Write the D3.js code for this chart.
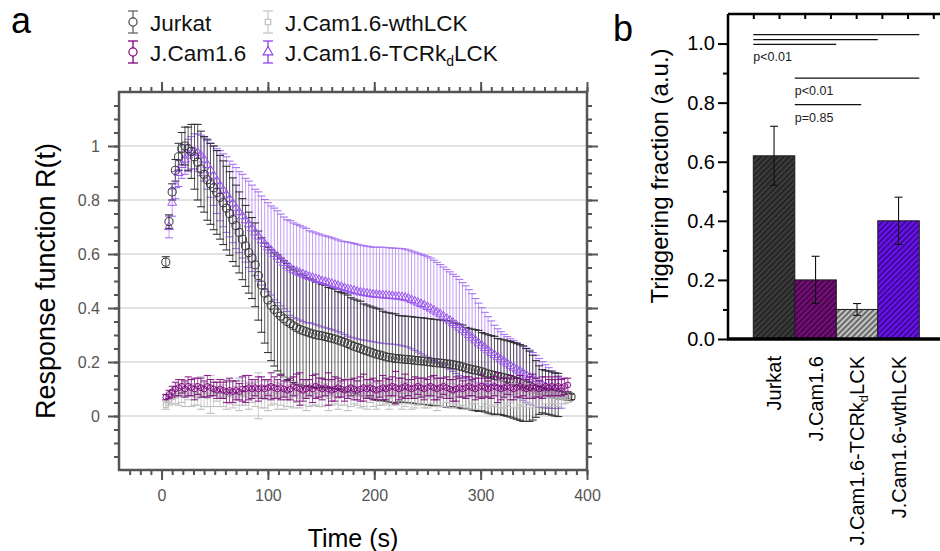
<!DOCTYPE html>
<html><head><meta charset="utf-8">
<script src="https://cdn.jsdelivr.net/npm/d3@7"></script>
<style>body{margin:0;background:#fff}svg{display:block;font-family:"Liberation Sans",Arial,sans-serif}</style>
</head><body><svg id="c" width="940" height="551"></svg>
<script>
// ---------- DATA: panel a ----------
const timeS = [4,7,10,13,16,19,22,25,28,31, 34,37,40,43,46,49,52,55,58,61, 64,67,70,73,76,79,82,85,88,91,
 94,97,100,103,106,109,112,115,118,121, 124,127,130,133,136,139,142,145,148,151, 154,157,160,163,166,169,172,175,178,181,
 184,187,190,193,196,199,202,205,208,211, 214,217,220,223,226,229,232,235,238,241, 244,247,250,253,256,259,262,265,268,271,
 274,277,280,283,286,289,292,295,298,301, 304,307,310,313,316,319,322,325,328,331, 334,337,340,343,346,349,352,355,358,361,
 364,367,370,373,376,379,382,385];

const jurkat = [0.57,0.72,0.83,0.91,0.96,0.99,1.00,0.99,0.98,0.96,
 0.94,0.915,0.895,0.875,0.86,0.845,0.828,0.81,0.79,0.77,
 0.75,0.727,0.705,0.68,0.655,0.63,0.605,0.585,0.56,0.52,
 0.485,0.455,0.43,0.41,0.395,0.382,0.37,0.36,0.35,0.342,
 0.334,0.327,0.321,0.316,0.312,0.308,0.304,0.301,0.299,0.297,
 0.294,0.291,0.288,0.285,0.281,0.277,0.273,0.268,0.263,0.258,
 0.254,0.25,0.245,0.241,0.237,0.233,0.229,0.226,0.223,0.219,
 0.217,0.215,0.213,0.212,0.211,0.21,0.209,0.208,0.206,0.205,
 0.204,0.203,0.201,0.2,0.198,0.197,0.196,0.195,0.193,0.192,
 0.19,0.188,0.185,0.182,0.178,0.175,0.172,0.17,0.167,0.164,
 0.16,0.156,0.153,0.15,0.147,0.145,0.142,0.139,0.136,0.132,
 0.128,0.124,0.12,0.115,0.11,0.105,0.1,0.096,0.092,0.088,
 0.086,0.083,0.08,0.078,0.076,0.074,0.073,0.071];
const jurkatErr = [0.02,0.025,0.03,0.04,0.05,0.06,0.07,0.08,0.1,0.12,
 0.14,0.14,0.14,0.15,0.15,0.155,0.155,0.155,0.155,0.155,
 0.155,0.155,0.15,0.15,0.15,0.15,0.15,0.15,0.155,0.165,
 0.175,0.185,0.195,0.205,0.21,0.215,0.215,0.215,0.215,0.21,
 0.21,0.21,0.205,0.205,0.2,0.2,0.2,0.195,0.195,0.19,
 0.19,0.185,0.185,0.185,0.18,0.18,0.18,0.18,0.175,0.175,
 0.175,0.175,0.17,0.17,0.17,0.17,0.17,0.17,0.165,0.165,
 0.165,0.165,0.165,0.16,0.16,0.16,0.16,0.16,0.16,0.16,
 0.16,0.16,0.16,0.16,0.16,0.16,0.16,0.16,0.16,0.16,
 0.155,0.155,0.155,0.155,0.15,0.15,0.15,0.15,0.15,0.145,
 0.145,0.145,0.145,0.145,0.14,0.14,0.14,0.14,0.14,0.14,
 0.14,0.14,0.14,0.135,0.13,0.12,0.105,0.09,0.08,0.08,
 0.08,0.08,0.08,0.08,0.015,0.012,0.01,0.01];

const tcrkd = [null,0.70,0.79,0.855,0.90,0.93,0.95,0.965,0.975,0.98,
 0.975,0.965,0.95,0.93,0.91,0.89,0.87,0.853,0.836,0.82,
 0.804,0.787,0.77,0.755,0.74,0.725,0.71,0.695,0.68,0.665,
 0.65,0.637,0.625,0.613,0.6,0.59,0.578,0.567,0.557,0.548,
 0.54,0.535,0.53,0.525,0.52,0.516,0.512,0.508,0.504,0.5,
 0.497,0.494,0.49,0.486,0.482,0.478,0.474,0.47,0.467,0.464,
 0.461,0.458,0.456,0.454,0.452,0.45,0.449,0.448,0.447,0.446,
 0.445,0.444,0.443,0.442,0.44,0.438,0.435,0.43,0.425,0.42,
 0.415,0.41,0.404,0.398,0.391,0.384,0.377,0.369,0.361,0.353,
 0.345,0.337,0.328,0.319,0.31,0.3,0.29,0.28,0.27,0.261,
 0.252,0.243,0.234,0.226,0.218,0.21,0.202,0.194,0.186,0.179,
 0.172,0.165,0.158,0.151,0.144,0.137,0.13,0.123,0.116,0.11,
 0.104,0.098,0.093,0.088,0.084,null,null,null];
const tcrkdErr = [null,0.04,0.05,0.05,0.05,0.05,0.055,0.06,0.06,0.065,
 0.07,0.075,0.08,0.09,0.1,0.11,0.12,0.13,0.135,0.14,
 0.14,0.145,0.15,0.15,0.155,0.155,0.16,0.16,0.16,0.165,
 0.165,0.165,0.165,0.165,0.17,0.17,0.17,0.17,0.17,0.175,
 0.175,0.175,0.175,0.175,0.175,0.17,0.17,0.17,0.17,0.17,
 0.17,0.17,0.17,0.17,0.17,0.17,0.172,0.174,0.175,0.175,
 0.175,0.175,0.175,0.175,0.175,0.175,0.176,0.177,0.178,0.178,
 0.178,0.178,0.178,0.179,0.18,0.18,0.18,0.181,0.182,0.183,
 0.184,0.185,0.186,0.187,0.186,0.185,0.184,0.183,0.182,0.181,
 0.18,0.18,0.178,0.175,0.172,0.168,0.163,0.155,0.148,0.14,
 0.132,0.125,0.118,0.11,0.105,0.102,0.1,0.1,0.1,0.1,
 0.1,0.1,0.1,0.1,0.1,0.098,0.095,0.09,0.085,0.08,
 0.075,0.07,0.065,0.06,0.055,null,null,null];

const jcam = [0.07,0.08,0.09,0.1,0.105,0.11,0.1,0.11,0.105,0.1,
 0.11,0.105,0.1,0.11,0.105,0.1,0.095,0.1,0.095,0.09,
 0.095,0.09,0.095,0.09,0.1,0.1,0.105,0.1,0.105,0.1,
 0.105,0.1,0.105,0.11,0.105,0.1,0.105,0.1,0.095,0.1,
 0.11,0.105,0.1,0.095,0.1,0.105,0.1,0.11,0.105,0.1,
 0.105,0.1,0.095,0.1,0.105,0.1,0.095,0.1,0.105,0.1,
 0.095,0.1,0.105,0.1,0.105,0.1,0.095,0.1,0.105,0.1,
 0.105,0.11,0.105,0.1,0.105,0.11,0.105,0.1,0.105,0.11,
 0.105,0.1,0.105,0.11,0.105,0.1,0.105,0.11,0.105,0.1,
 0.095,0.1,0.105,0.1,0.105,0.11,0.105,0.1,0.105,0.11,
 0.105,0.1,0.105,0.11,0.105,0.1,0.105,0.11,0.105,0.1,
 0.105,0.11,0.105,0.1,0.105,0.11,0.105,0.1,0.105,0.11,
 0.105,0.11,0.105,0.11,0.105,0.11,0.115,null];
const jcamErr = [0.01,0.015,0.02,0.025,0.03,0.025,0.03,0.035,0.03,0.04,
 0.03,0.035,0.03,0.04,0.03,0.025,0.03,0.035,0.03,0.04,
 0.045,0.04,0.035,0.03,0.045,0.05,0.045,0.035,0.03,0.045,
 0.04,0.035,0.03,0.05,0.04,0.035,0.045,0.03,0.035,0.04,
 0.035,0.05,0.06,0.04,0.035,0.03,0.05,0.045,0.035,0.04,
 0.03,0.06,0.04,0.045,0.035,0.03,0.04,0.035,0.03,0.04,
 0.035,0.045,0.05,0.035,0.03,0.04,0.035,0.03,0.045,0.04,
 0.03,0.035,0.06,0.04,0.035,0.045,0.03,0.035,0.04,0.03,
 0.035,0.04,0.03,0.035,0.045,0.04,0.035,0.03,0.04,0.035,
 0.04,0.045,0.035,0.03,0.04,0.035,0.03,0.04,0.035,0.045,
 0.035,0.03,0.04,0.035,0.055,0.04,0.035,0.03,0.045,0.04,
 0.035,0.04,0.03,0.035,0.04,0.045,0.035,0.03,0.04,0.035,
 0.03,0.035,0.03,0.035,0.03,0.03,0.025,null];

const wth = [0.04,0.06,0.07,0.075,0.08,0.085,0.08,0.09,0.085,0.08,
 0.075,0.085,0.08,0.075,0.08,0.085,0.09,0.08,0.075,0.08,
 0.085,0.08,0.075,0.08,0.085,0.08,0.075,0.085,0.08,0.075,
 0.08,0.07,0.075,0.085,0.08,0.075,0.08,0.085,0.08,0.075,
 0.08,0.085,0.075,0.08,0.075,0.085,0.08,0.075,0.08,0.085,
 0.08,0.075,0.085,0.08,0.075,0.08,0.085,0.08,0.075,0.08,
 0.085,0.08,0.075,0.08,0.085,0.08,0.075,0.08,0.085,0.08,
 0.075,0.08,0.085,0.08,0.075,0.08,0.085,0.08,0.075,0.08,
 0.085,0.08,0.075,0.08,0.085,0.08,0.075,0.08,0.085,0.08,
 0.075,0.08,0.085,0.08,0.075,0.08,0.085,0.08,0.075,0.08,
 0.085,0.08,0.075,0.08,0.085,0.08,0.075,0.08,0.085,0.08,
 0.075,0.08,0.085,0.08,0.075,0.08,0.085,0.08,0.075,0.08,
 0.075,0.08,0.075,0.07,0.075,0.07,0.07,null];
const wthErr = [0.015,0.02,0.025,0.03,0.04,0.035,0.045,0.03,0.05,0.04,
 0.035,0.06,0.045,0.04,0.07,0.05,0.035,0.045,0.04,0.055,
 0.04,0.05,0.035,0.06,0.045,0.04,0.05,0.035,0.045,0.085,
 0.05,0.04,0.055,0.045,0.035,0.05,0.04,0.06,0.045,0.04,
 0.05,0.035,0.045,0.04,0.055,0.05,0.04,0.035,0.045,0.05,
 0.04,0.055,0.045,0.035,0.05,0.04,0.045,0.06,0.04,0.035,
 0.045,0.05,0.04,0.055,0.035,0.045,0.05,0.04,0.045,0.035,
 0.05,0.04,0.045,0.035,0.05,0.045,0.04,0.055,0.045,0.04,
 0.04,0.05,0.045,0.035,0.05,0.06,0.04,0.045,0.035,0.05,
 0.045,0.035,0.05,0.04,0.045,0.055,0.04,0.035,0.05,0.045,
 0.04,0.05,0.035,0.045,0.04,0.05,0.045,0.04,0.035,0.05,
 0.045,0.04,0.05,0.035,0.045,0.04,0.05,0.045,0.04,0.035,
 0.04,0.035,0.03,0.035,0.03,0.025,0.02,null];

const xTicksA = [0,100,200,300,400];
const yTicksA = [0,0.2,0.4,0.6,0.8,1];

// ---------- DATA: panel b ----------
const barCats = ["Jurkat","J.Cam1.6","J.Cam1.6-TCRkdLCK","J.Cam1.6-wthLCK"];
const barVals = [0.62,0.20,0.10,0.40];
const barErrs = [0.10,0.08,0.02,0.08];
const yTicksB = [0,0.2,0.4,0.6,0.8,1.0];
const sigLines = [
  {from:"Jurkat", to:"J.Cam1.6-wthLCK", y:1.030, label:null},
  {from:"Jurkat", to:"J.Cam1.6-TCRkdLCK", y:1.013, label:null},
  {from:"Jurkat", to:"J.Cam1.6", y:0.997, label:"p<0.01"},
  {from:"J.Cam1.6", to:"J.Cam1.6-wthLCK", y:0.883, label:"p<0.01"},
  {from:"J.Cam1.6", to:"J.Cam1.6-TCRkdLCK", y:0.793, label:"p=0.85", part:true}
];

// ---------- DRAW ----------
const svg = d3.select("#c");
const xA = d3.scaleLinear().domain([-40,400]).range([119,587]);
const yA = d3.scaleLinear().domain([-0.2,1.2]).range([470,92]);
const frameC = "#555";

function zip(v,e){return timeS.map((t,i)=>({t:t,v:v[i],e:e[i]})).filter(d=>d.v!=null);}

const gA = svg.append("g");
gA.selectAll("line.grid").data(yTicksA).join("line")
  .attr("x1",xA(-40)).attr("x2",xA(400)).attr("y1",d=>yA(d)).attr("y2",d=>yA(d))
  .attr("stroke","#e3e3e3").attr("stroke-width",2);

function errBars(g,data,stemC,capC,op,capW,sw){
  const gg=g.append("g").attr("opacity",op);
  gg.selectAll("line.s").data(data).join("line")
    .attr("x1",d=>xA(d.t)).attr("x2",d=>xA(d.t))
    .attr("y1",d=>yA(d.v-d.e)).attr("y2",d=>yA(d.v+d.e))
    .attr("stroke",stemC).attr("stroke-width",sw||1);
  ["lo","hi"].forEach(k=>{
    gg.selectAll("line."+k).data(data).join("line")
      .attr("x1",d=>xA(d.t)-capW).attr("x2",d=>xA(d.t)+capW)
      .attr("y1",d=>yA(k=="lo"?d.v-d.e:d.v+d.e)).attr("y2",d=>yA(k=="lo"?d.v-d.e:d.v+d.e))
      .attr("stroke",capC).attr("stroke-width",1.1);
  });
}
function markers(g,data,type,color,size,sw){
  g.append("g").selectAll("path").data(data).join("path")
   .attr("transform",d=>`translate(${xA(d.t)},${yA(d.v)})`)
   .attr("d",d3.symbol().type(type).size(size))
   .attr("fill","none").attr("stroke",color).attr("stroke-width",sw||1);
}
const dJ=zip(jurkat,jurkatErr), dT=zip(tcrkd,tcrkdErr), dC=zip(jcam,jcamErr), dW=zip(wth,wthErr);

errBars(gA,dT,"#b98cf5","#9a5cf0",0.85,4);
errBars(gA,dJ,"#4a4a4a","#222",0.9,4);
markers(gA,dT,d3.symbolTriangle,"#9a55ee",34);
markers(gA,dJ,d3.symbolCircle,"#333",52);
errBars(gA,dW,"#c8c8c8","#c0c0c0",1,4,0.9);
markers(gA,dW,d3.symbolSquare,"#b5b5b5",24);
errBars(gA,dC,"#8a1a8a","#7a007a",0.85,3.5,0.9);
markers(gA,dC,d3.symbolCircle,"#7a007a",26,0.9);

gA.append("rect").attr("x",xA(-40)).attr("y",yA(1.2)).attr("width",xA(400)-xA(-40)).attr("height",yA(-0.2)-yA(1.2))
  .attr("fill","none").attr("stroke",frameC).attr("stroke-width",2.5);

function styleAxis(sel,fs){
  sel.select(".domain").remove();
  sel.selectAll(".tick line").attr("stroke",frameC).attr("stroke-width",2);
  sel.selectAll(".tick text").attr("fill","#555").attr("font-size",fs).attr("font-family","Liberation Sans, Arial, sans-serif");
}
const minorX=d3.range(-30,401,10), minorY=d3.range(-0.15,1.2,0.05);
gA.append("g").attr("transform",`translate(0,${yA(-0.2)})`).call(d3.axisBottom(xA).tickValues(minorX).tickSize(5).tickFormat("")).call(s=>styleAxis(s,16));
gA.append("g").attr("transform",`translate(0,${yA(-0.2)})`).call(d3.axisBottom(xA).tickValues(xTicksA).tickSize(10).tickPadding(10).tickFormat(d3.format("d"))).call(s=>styleAxis(s,16));
gA.append("g").attr("transform",`translate(0,${yA(1.2)})`).call(d3.axisTop(xA).tickValues(minorX).tickSize(5).tickFormat("")).call(s=>styleAxis(s,16));
gA.append("g").attr("transform",`translate(0,${yA(1.2)})`).call(d3.axisTop(xA).tickValues(xTicksA).tickSize(10).tickFormat("")).call(s=>styleAxis(s,16));
gA.append("g").attr("transform",`translate(${xA(-40)},0)`).call(d3.axisLeft(yA).tickValues(minorY).tickSize(5).tickFormat("")).call(s=>styleAxis(s,16));
gA.append("g").attr("transform",`translate(${xA(-40)},0)`).call(d3.axisLeft(yA).tickValues(yTicksA).tickSize(11).tickPadding(8).tickFormat(d3.format("~g"))).call(s=>styleAxis(s,16));
gA.append("g").attr("transform",`translate(${xA(400)},0)`).call(d3.axisRight(yA).tickValues(minorY).tickSize(5).tickFormat("")).call(s=>styleAxis(s,16));
gA.append("g").attr("transform",`translate(${xA(400)},0)`).call(d3.axisRight(yA).tickValues(yTicksA).tickSize(11).tickFormat("")).call(s=>styleAxis(s,16));

svg.append("text").attr("x",(xA(-40)+xA(400))/2).attr("y",547).attr("text-anchor","middle").attr("font-size",25).text("Time (s)");
svg.append("text").attr("transform",`translate(55,${(yA(-0.2)+yA(1.2))/2}) rotate(-90)`).attr("text-anchor","middle").attr("font-size",27).text("Response function R(t)");

svg.append("text").attr("x",11).attr("y",33).attr("font-size",36).text("a");
svg.append("text").attr("x",613).attr("y",41).attr("font-size",36).text("b");

const legItems=[
 {label:["Jurkat"],type:d3.symbolCircle,c:"#444",sc:"#666",x:133,y:22,size:52},
 {label:["J.Cam1.6-wthLCK"],type:d3.symbolSquare,c:"#bdbdbd",sc:"#c8c8c8",x:268,y:22,size:30},
 {label:["J.Cam1.6"],type:d3.symbolCircle,c:"#800080",sc:"#800080",x:133,y:52,size:52},
 {label:["J.Cam1.6-TCRk","d","LCK"],type:d3.symbolTriangle,c:"#8f40f0",sc:"#8f40f0",x:268,y:52,size:40}
];
const lg=svg.append("g");
legItems.forEach(it=>{
  const g=lg.append("g").attr("transform",`translate(${it.x},${it.y})`);
  g.append("line").attr("y1",-11).attr("y2",11).attr("stroke",it.sc).attr("stroke-width",1.3);
  g.append("line").attr("x1",-5).attr("x2",5).attr("y1",-11).attr("y2",-11).attr("stroke",it.sc).attr("stroke-width",1.3);
  g.append("line").attr("x1",-5).attr("x2",5).attr("y1",11).attr("y2",11).attr("stroke",it.sc).attr("stroke-width",1.3);
  g.append("path").attr("d",d3.symbol().type(it.type).size(it.size)).attr("fill","#fff").attr("stroke",it.c).attr("stroke-width",1.2);
  const t=g.append("text").attr("x",17).attr("y",9).attr("font-size",22.5).attr("fill","#111");
  t.append("tspan").text(it.label[0]);
  if(it.label.length>1){
    t.append("tspan").attr("font-size",14).attr("dy",5).text(it.label[1]);
    t.append("tspan").attr("dy",-5).text(it.label[2]);
  }
});

// ---------- panel b ----------
const xB = d3.scaleBand().domain(barCats).range([753.3,919.3]).padding(0);
const yB = d3.scaleLinear().domain([0,1.1]).range([339,14]);
const gB = svg.append("g");
const defs = svg.append("defs");
const barFill=["#3d3d3d","#78107a","#c4c4c4","#6c14ee"];
const hatchC=["#161616","#2c0030","#3a3a3a","#2a0070"];
barCats.forEach((c,i)=>{
  const p=defs.append("pattern").attr("id","h"+i).attr("patternUnits","userSpaceOnUse")
    .attr("width",4).attr("height",4).attr("patternTransform","rotate(45)");
  p.append("rect").attr("width",4).attr("height",4).attr("fill",barFill[i]);
  p.append("line").attr("x1",1).attr("x2",1).attr("y1",0).attr("y2",4).attr("stroke",hatchC[i]).attr("stroke-width",1.3);
});
gB.selectAll("rect.bar").data(barCats).join("rect")
  .attr("x",d=>xB(d)).attr("width",xB.bandwidth())
  .attr("y",(d,i)=>yB(barVals[i])).attr("height",(d,i)=>yB(0)-yB(barVals[i]))
  .attr("fill",(d,i)=>`url(#h${i})`).attr("stroke","#1a1a1a").attr("stroke-width",1);
barCats.forEach((c,i)=>{
  const cx=xB(c)+xB.bandwidth()/2, lo=yB(barVals[i]-barErrs[i]), hi=yB(barVals[i]+barErrs[i]);
  gB.append("line").attr("x1",cx).attr("x2",cx).attr("y1",lo).attr("y2",hi).attr("stroke","#111").attr("stroke-width",1.1);
  [lo,hi].forEach(y=>gB.append("line").attr("x1",cx-4).attr("x2",cx+4).attr("y1",y).attr("y2",y).attr("stroke","#111").attr("stroke-width",1.1));
});
const axL=gB.append("g").attr("transform",`translate(728,0)`)
  .call(d3.axisLeft(yB).tickValues([0.1,0.3,0.5,0.7,0.9]).tickSize(5).tickFormat(""));
axL.select(".domain").remove(); axL.selectAll(".tick line").attr("stroke","#000").attr("stroke-width",2);
const axL2=gB.append("g").attr("transform",`translate(728,0)`)
  .call(d3.axisLeft(yB).tickValues(yTicksB).tickSize(10).tickPadding(3).tickFormat(d3.format(".1f")));
axL2.select(".domain").remove(); axL2.selectAll(".tick line").attr("stroke","#000").attr("stroke-width",2);
axL2.selectAll(".tick text").attr("font-size",20).attr("fill","#000").attr("font-family","Liberation Sans, Arial, sans-serif");
gB.append("line").attr("x1",728).attr("x2",728).attr("y1",yB(1.1)).attr("y2",yB(0)).attr("stroke","#000").attr("stroke-width",2.5);
gB.append("line").attr("x1",728).attr("x2",940).attr("y1",yB(1.1)).attr("y2",yB(1.1)).attr("stroke","#000").attr("stroke-width",2.5);
gB.append("line").attr("x1",727).attr("x2",940).attr("y1",yB(0)).attr("y2",yB(0)).attr("stroke","#000").attr("stroke-width",3.5);
const xTop = d3.scaleLinear().domain([0,8]).range([753.3,959]);
const axT=gB.append("g").attr("transform",`translate(0,${yB(1.1)})`).call(d3.axisBottom(xTop).tickValues(d3.range(0,8)).tickSize(5).tickFormat(""));
axT.select(".domain").remove(); axT.selectAll(".tick line").attr("stroke","#000").attr("stroke-width",2);

sigLines.forEach(s=>{
  const x1=xB(s.from), x2=s.part? xB(s.to)+xB.bandwidth()*0.6 : xB(s.to)+xB.bandwidth();
  gB.append("line").attr("x1",x1).attr("x2",x2).attr("y1",yB(s.y)).attr("y2",yB(s.y)).attr("stroke","#111").attr("stroke-width",1.2);
  if(s.label) gB.append("text").attr("x",x1).attr("y",yB(s.y)+17).attr("font-size",12.5).attr("fill","#222").text(s.label);
});

barCats.forEach(c=>{
  const t=gB.append("text").attr("transform",`translate(${xB(c)+xB.bandwidth()/2+7},356) rotate(-90)`)
    .attr("text-anchor","end").attr("font-size",20).attr("fill","#000");
  if(c==="J.Cam1.6-TCRkdLCK"){
    t.append("tspan").text("J.Cam1.6-TCRk");
    t.append("tspan").attr("font-size",13).attr("dy",4).text("d");
    t.append("tspan").attr("dy",-4).text("LCK");
  } else t.text(c);
});
svg.append("text").attr("transform",`translate(668,176) rotate(-90)`).attr("text-anchor","middle").attr("font-size",24).text("Triggering fraction (a.u.)");
</script></body></html>
